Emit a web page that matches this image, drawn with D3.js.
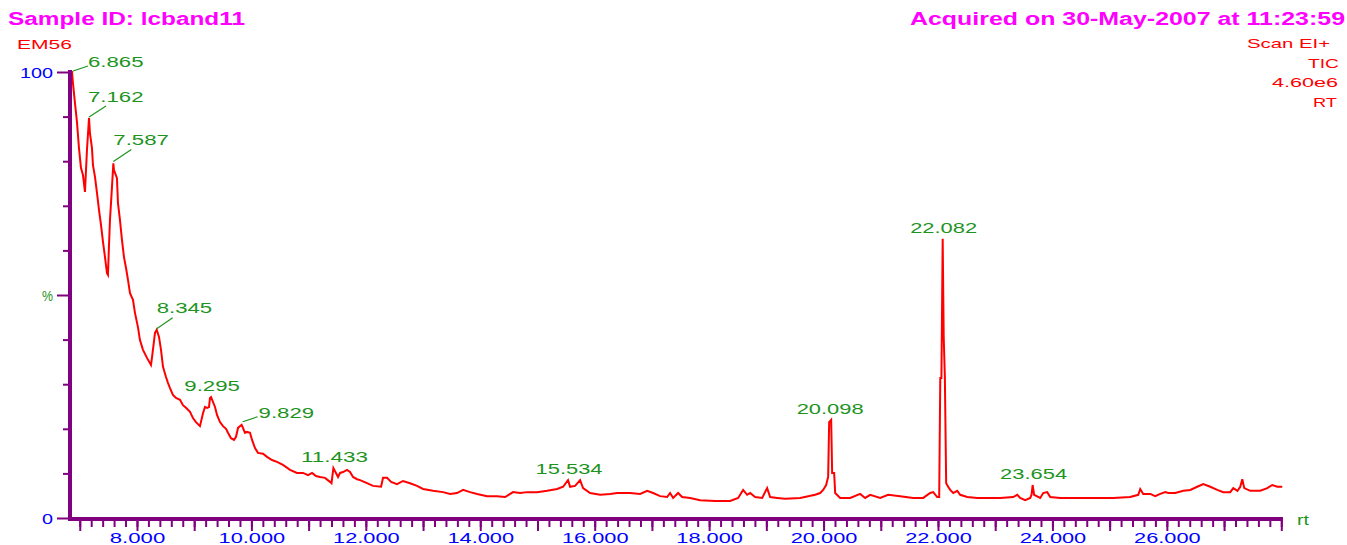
<!DOCTYPE html>
<html>
<head>
<meta charset="utf-8">
<script src="https://cdn.jsdelivr.net/npm/d3@7"></script>
<style>
  html, body { margin: 0; padding: 0; background: #ffffff; }
  svg { display: block; font-family: "Liberation Sans", Arial, sans-serif; }
</style>
</head>
<body>
<svg id="chart" width="1347" height="545"></svg>
<script>
// ---------------- data ----------------
const sampleTitle = "Sample ID: lcband11";
const acquiredText = "Acquired on 30-May-2007 at 11:23:59";
const traceName = "EM56";
const infoLines = ["Scan EI+", "TIC", "4.60e6", "RT"];
const xAxisTitle = "rt";
const yAxisTitle = "%";

// total ion chromatogram: [retention time (min), relative intensity (%)]
const tic = [
  [6.829,100],[6.865,100],[6.881,97.5],[6.916,93.1],[6.951,88.8],[6.986,83.0],[7.021,78.5],[7.056,76.9],
  [7.091,73.1],[7.126,82.5],[7.162,89.7],[7.178,86.3],[7.213,83.0],[7.231,79.1],[7.266,76.5],[7.301,72.9],
  [7.336,69.1],[7.371,65.7],[7.406,61.9],[7.441,58.5],[7.476,54.9],[7.493,54.5],[7.510,60.8],[7.528,66.8],
  [7.563,74.2],[7.587,79.5],[7.598,78.0],[7.650,76.2],[7.668,70.6],[7.703,66.8],[7.738,62.3],[7.773,58.5],
  [7.808,56.1],[7.843,53.4],[7.878,50.4],[7.930,48.9],[7.965,46.0],[8.017,42.8],[8.052,39.9],[8.105,37.7],
  [8.175,35.9],[8.245,34.3],[8.262,35.9],[8.315,41.5],[8.345,42.2],[8.385,40.6],[8.420,37.7],[8.455,33.9],
  [8.507,31.6],[8.542,30.3],[8.577,29.1],[8.629,27.6],[8.682,26.9],[8.752,26.5],[8.804,25.3],[8.857,24.7],
  [8.927,23.8],[8.979,22.4],[9.031,21.5],[9.101,20.6],[9.154,23.5],[9.189,24.9],[9.224,24.7],[9.259,24.9],
  [9.276,26.9],[9.295,27.1],[9.364,24.9],[9.399,23.1],[9.451,21.5],[9.504,20.6],[9.556,20.0],[9.591,19.1],
  [9.643,17.9],[9.696,17.5],[9.731,18.2],[9.766,20.2],[9.829,20.9],[9.853,20.2],[9.888,19.1],[9.923,19.3],
  [9.976,19.1],[10.011,17.5],[10.063,15.7],[10.115,14.6],[10.203,14.4],[10.273,13.7],[10.360,13.0],[10.448,12.6],
  [10.552,11.9],[10.675,10.8],[10.797,10.1],[10.902,10.1],[10.990,9.6],[11.060,10.1],[11.129,9.4],[11.199,9.2],
  [11.287,9.0],[11.374,8.1],[11.400,7.8],[11.433,11.2],[11.514,9.2],[11.549,10.1],[11.601,10.3],[11.671,10.8],
  [11.724,10.3],[11.776,9.2],[11.846,8.7],[11.899,8.5],[12.021,7.8],[12.126,7.2],[12.266,7.0],[12.301,9.0],
  [12.371,9.0],[12.441,8.1],[12.545,7.6],[12.650,8.3],[12.773,7.8],[12.895,7.2],[13.000,6.5],[13.175,6.1],
  [13.350,5.8],[13.472,5.4],[13.594,5.6],[13.699,6.3],[13.822,5.8],[13.944,5.4],[14.119,4.9],[14.294,4.9],
  [14.434,4.7],[14.573,5.8],[14.696,5.6],[14.818,5.8],[14.993,5.8],[15.168,6.1],[15.343,6.5],[15.448,7.0],
  [15.534,8.5],[15.570,7.0],[15.657,7.2],[15.745,8.5],[15.797,6.7],[15.920,5.6],[16.095,5.2],[16.270,5.4],
  [16.392,5.6],[16.497,5.6],[16.619,5.6],[16.794,5.4],[16.917,6.1],[17.021,5.6],[17.143,4.9],[17.266,4.7],
  [17.318,5.6],[17.371,4.5],[17.458,5.6],[17.528,4.7],[17.668,4.5],[17.843,4.0],[18.105,3.8],[18.367,3.8],
  [18.507,4.5],[18.594,6.3],[18.664,5.2],[18.717,5.6],[18.804,4.7],[18.927,4.5],[19.014,6.7],[19.066,4.7],
  [19.189,4.5],[19.329,4.3],[19.591,4.5],[19.853,5.2],[19.941,5.6],[19.993,6.3],[20.045,7.4],[20.080,9.2],
  [20.098,21.5],[20.133,22.0],[20.150,10.1],[20.185,10.1],[20.203,5.6],[20.290,4.5],[20.465,4.5],[20.640,5.4],
  [20.727,4.5],[20.815,5.2],[20.990,4.5],[21.129,5.2],[21.339,4.9],[21.566,4.5],[21.742,4.5],[21.864,5.6],
  [21.917,5.8],[21.986,4.7],[22.021,4.7],[22.040,31.4],[22.060,31.4],[22.082,62.6],[22.100,40.6],[22.120,31.6],
  [22.143,7.8],[22.178,7.0],[22.213,6.3],[22.266,5.6],[22.336,6.1],[22.388,5.2],[22.510,4.7],[22.685,4.5],
  [22.913,4.5],[23.087,4.5],[23.315,4.7],[23.385,5.2],[23.437,4.5],[23.524,4.0],[23.612,4.5],[23.635,5.2],
  [23.654,7.4],[23.680,5.2],[23.787,4.5],[23.839,5.6],[23.909,5.8],[23.962,4.7],[24.136,4.5],[24.399,4.5],
  [24.573,4.5],[24.836,4.5],[25.063,4.5],[25.360,4.7],[25.500,5.2],[25.535,6.5],[25.587,5.4],[25.710,5.4],
  [25.797,4.9],[25.885,5.4],[25.972,5.8],[26.024,5.6],[26.147,5.6],[26.287,6.1],[26.409,6.3],[26.531,7.0],
  [26.636,7.6],[26.759,7.0],[26.881,6.3],[26.986,5.8],[27.108,5.8],[27.161,6.7],[27.234,6.1],[27.283,7.0],
  [27.318,8.7],[27.353,6.7],[27.458,6.1],[27.633,6.1],[27.755,6.7],[27.843,7.4],[27.930,7.0],[28.017,7.0]
];

// labelled peaks
const peakTimes   = [6.865, 7.162, 7.587, 8.345, 9.295, 9.829, 11.433, 15.534, 20.098, 22.082, 23.654];
const peakHeights = [100,   89.7,  79.5,  42.2,  27.1,  20.9,  11.2,   8.5,    22.0,   62.6,   7.4];
const peakLabels  = ["6.865","7.162","7.587","8.345","9.295","9.829","11.433","15.534","20.098","22.082","23.654"];

// axis ticks
const xLabelTicks = [8, 10, 12, 14, 16, 18, 20, 22, 24, 26];
const xMajorTicks = d3.range(7, 28.01, 1);
const xMinorTicks = d3.range(7, 28.01, 0.2);
const yTicks      = [0, 10, 20, 30, 40, 50, 60, 70, 80, 90, 100];
const yTickLabels = ["0", "", "", "", "", "%", "", "", "", "", "100"];

// ---------------- layout / style ----------------
const MAGENTA = "#ff00ff", RED = "#ff0000", GREEN = "#1e941e", BLUE = "#0000ff", PURPLE = "#800080";
const svg = d3.select("#chart");

const x = d3.scaleLinear().domain([6.812, 28.03]).range([69, 1283]);
const y = d3.scaleLinear().domain([0, 100]).range([518, 72]);

// per-label placement (text offsets and leader lines), pixel offsets from the peak apex
const labelLayout = {
  "6.865": { tx: 16, ty: -5,  leader: [1, -1, 16, -6] },
  "7.162": { tx: -1, ty: -16, leader: [0, -1, 17, -12] },
  "7.587": { tx: 0,  ty: -18, leader: [0, -2, 18, -14] },
  "8.345": { tx: 0,  ty: -17, leader: [0, -1, 16, -12] },
  "9.829": { tx: 17, ty: -7,  leader: [1, -3, 16, -8] }
};
const charW = 11.5;

// ---------------- header texts ----------------
svg.append("text").attr("x", 8).attr("y", 25)
  .attr("font-size", 18).attr("font-weight", "bold").attr("fill", MAGENTA)
  .attr("textLength", 237).attr("lengthAdjust", "spacingAndGlyphs")
  .text(sampleTitle);
svg.append("text").attr("x", 1345).attr("y", 25).attr("text-anchor", "end")
  .attr("font-size", 18).attr("font-weight", "bold").attr("fill", MAGENTA)
  .attr("textLength", 435).attr("lengthAdjust", "spacingAndGlyphs")
  .text(acquiredText);
svg.append("text").attr("x", 17).attr("y", 49)
  .attr("font-size", 13).attr("fill", RED)
  .attr("textLength", 55).attr("lengthAdjust", "spacingAndGlyphs")
  .text(traceName);

const infoWidths = [83, 31, 66, 24];
const infoRight  = [1330, 1339, 1338, 1337];
infoLines.forEach((s, i) => {
  svg.append("text").attr("x", infoRight[i]).attr("y", 48 + i * 19.7).attr("text-anchor", "end")
    .attr("font-size", 13).attr("fill", RED)
    .attr("textLength", infoWidths[i]).attr("lengthAdjust", "spacingAndGlyphs")
    .text(s);
});

// ---------------- trace ----------------
const line = d3.line().x(d => x(d[0])).y(d => y(d[1])).curve(d3.curveLinear);
svg.append("path").datum(tic)
  .attr("d", line).attr("fill", "none")
  .attr("stroke", RED).attr("stroke-width", 2).attr("stroke-linejoin", "miter");

// ---------------- axes ----------------
const gxMinor = svg.append("g").attr("transform", `translate(0,${y(0)})`)
  .call(d3.axisBottom(x).tickValues(xMinorTicks).tickSize(9).tickFormat(""));
const gxMajor = svg.append("g").attr("transform", `translate(0,${y(0)})`)
  .call(d3.axisBottom(x).tickValues(xMajorTicks).tickSize(13).tickFormat(""));
const gxLab = svg.append("g").attr("transform", `translate(0,${y(0)})`)
  .call(d3.axisBottom(x).tickValues(xLabelTicks).tickSize(0).tickPadding(14)
    .tickFormat(d3.format(".3f")));
[gxMinor, gxMajor, gxLab].forEach(g => g.select(".domain").remove());
[gxMinor, gxMajor].forEach(g => g.selectAll("line").attr("stroke", PURPLE).attr("stroke-width", 2));
gxLab.selectAll("text")
  .attr("fill", BLUE).attr("font-size", 15).attr("font-family", "Liberation Sans, Arial, sans-serif")
  .attr("dy", "0.71em")
  .attr("textLength", function() { return this.textContent.length * 11.1; })
  .attr("lengthAdjust", "spacingAndGlyphs");

const gy = svg.append("g").attr("transform", `translate(${x.range()[0] + 1},0)`)
  .call(d3.axisLeft(y).tickValues(yTicks).tickSizeOuter(0)
    .tickSize(0).tickPadding(17).tickFormat((d, i) => yTickLabels[i]));
gy.select(".domain").remove();
gy.selectAll(".tick line")
  .attr("x2", (d, i) => yTickLabels[i] ? -13 : -7)
  .attr("stroke", PURPLE).attr("stroke-width", 2);
gy.selectAll(".tick text")
  .attr("font-size", 15).attr("font-family", "Liberation Sans, Arial, sans-serif")
  .attr("fill", (d, i) => yTickLabels[i] === yAxisTitle ? GREEN : BLUE)
  .attr("dy", "0.34em")
  .attr("textLength", function() { return this.textContent.length * 11; })
  .attr("lengthAdjust", "spacingAndGlyphs");

svg.append("line").attr("x1", x.range()[0] + 1).attr("x2", x.range()[0] + 1)
  .attr("y1", y(100) - 2).attr("y2", y(0) + 3)
  .attr("stroke", PURPLE).attr("stroke-width", 4);
svg.append("line").attr("x1", x.range()[0] - 1).attr("x2", x.range()[1])
  .attr("y1", y(0) + 1).attr("y2", y(0) + 1)
  .attr("stroke", PURPLE).attr("stroke-width", 4);

svg.append("text").attr("x", x.range()[1] + 14).attr("y", y(0) + 7)
  .attr("font-size", 15).attr("fill", GREEN)
  .attr("textLength", 12).attr("lengthAdjust", "spacingAndGlyphs")
  .text(xAxisTitle);

// ---------------- peak labels ----------------
const gp = svg.append("g");
peakTimes.forEach((t, i) => {
  const lab = peakLabels[i];
  const px = x(t), py = y(peakHeights[i]);
  const L = labelLayout[lab];
  const tl = lab.length * charW - 2;
  if (L) {
    gp.append("line")
      .attr("x1", px + L.leader[0]).attr("y1", py + L.leader[1])
      .attr("x2", px + L.leader[2]).attr("y2", py + L.leader[3])
      .attr("stroke", GREEN).attr("stroke-width", 1.2);
    gp.append("text").attr("x", px + L.tx).attr("y", py + L.ty)
      .attr("text-anchor", "start").attr("font-size", 14).attr("fill", GREEN)
      .attr("textLength", tl).attr("lengthAdjust", "spacingAndGlyphs")
      .text(lab);
  } else {
    gp.append("text").attr("x", px + 1).attr("y", py - 6)
      .attr("text-anchor", "middle").attr("font-size", 14).attr("fill", GREEN)
      .attr("textLength", tl).attr("lengthAdjust", "spacingAndGlyphs")
      .text(lab);
  }
});
</script>
</body>
</html>
